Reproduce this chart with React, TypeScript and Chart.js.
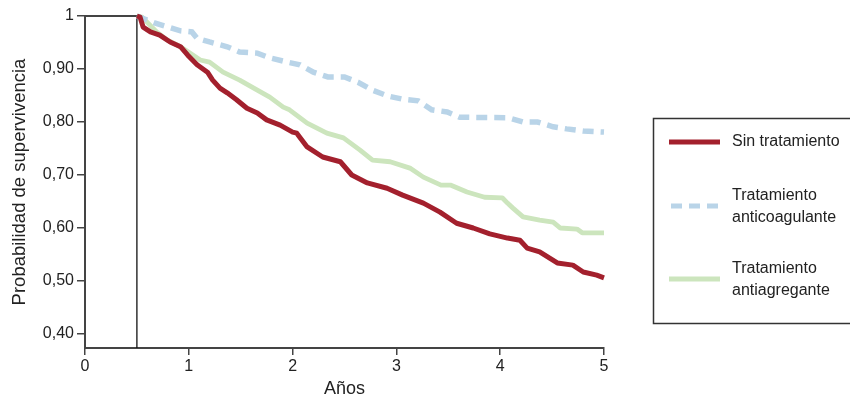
import React, { useEffect, useRef } from "react";
import { Chart, registerables } from "chart.js";

Chart.register(...registerables);

// ---- Data ----
const sinTiempo = [0.5, 0.53, 0.56, 0.63, 0.72, 0.82, 0.92, 0.99, 1.08, 1.18, 1.23, 1.3, 1.37, 1.46, 1.56, 1.66, 1.75, 1.88, 2.0, 2.04, 2.14, 2.29, 2.46, 2.57, 2.72, 2.91, 3.06, 3.26, 3.42, 3.58, 3.74, 3.9, 4.07, 4.19, 4.26, 4.38, 4.55, 4.7, 4.8, 4.93, 5.0];
const sinValores = [1.0, 0.998, 0.979, 0.97, 0.964, 0.951, 0.942, 0.926, 0.908, 0.894, 0.879, 0.864, 0.855, 0.842, 0.826, 0.817, 0.804, 0.794, 0.781, 0.779, 0.753, 0.734, 0.725, 0.7, 0.685, 0.675, 0.662, 0.647, 0.63, 0.609, 0.6, 0.589, 0.581, 0.577, 0.562, 0.555, 0.534, 0.53, 0.517, 0.511, 0.506];

const anticoagTiempo = [0.5, 0.67, 0.92, 1.03, 1.08, 1.2, 1.37, 1.49, 1.66, 1.78, 1.95, 2.07, 2.2, 2.34, 2.5, 2.63, 2.77, 2.92, 3.06, 3.21, 3.34, 3.49, 3.61, 4.08, 4.22, 4.36, 4.51, 4.64, 4.8, 5.0];
const anticoagValores = [1.0, 0.987, 0.972, 0.97, 0.958, 0.951, 0.942, 0.932, 0.93, 0.921, 0.913, 0.908, 0.894, 0.885, 0.885, 0.875, 0.86, 0.849, 0.843, 0.84, 0.823, 0.819, 0.809, 0.808, 0.8, 0.8, 0.791, 0.787, 0.783, 0.781];

const antiagregTiempo = [0.5, 0.55, 0.69, 0.79, 0.92, 1.01, 1.11, 1.2, 1.33, 1.49, 1.66, 1.78, 1.91, 1.97, 2.14, 2.33, 2.49, 2.65, 2.77, 2.94, 3.13, 3.26, 3.43, 3.52, 3.68, 3.85, 4.02, 4.07, 4.12, 4.22, 4.38, 4.51, 4.58, 4.74, 4.79, 5.0];
const antiagregValores = [1.0, 0.998, 0.97, 0.955, 0.942, 0.93, 0.917, 0.913, 0.894, 0.879, 0.86, 0.847, 0.828, 0.823, 0.798, 0.779, 0.77, 0.747, 0.728, 0.725, 0.713, 0.696, 0.681, 0.681, 0.668, 0.658, 0.657, 0.647, 0.638, 0.621, 0.615, 0.611, 0.6, 0.598, 0.591, 0.591];

const seriesLabels = ["Sin tratamiento", "Tratamiento anticoagulante", "Tratamiento antiagregante"];
const legendLines = [["Sin tratamiento"], ["Tratamiento", "anticoagulante"], ["Tratamiento", "antiagregante"]];

const xTickValues = [0, 1, 2, 3, 4, 5];
const yTickValues = [0.4, 0.5, 0.6, 0.7, 0.8, 0.9, 1.0];
const yTickLabels = ["0,40", "0,50", "0,60", "0,70", "0,80", "0,90", "1"];
const corteAnios = 0.5;
const yMin = 0.3736;
const yMax = 1.0;

const FONT = "'Liberation Sans', Arial, sans-serif";
const TEXT = "#222";
const AXIS = "#444";

const toPoints = (t: number[], v: number[]) => t.map((x, i) => ({ x, y: v[i] }));

const boxPlugin = {
  id: "cutBox",
  beforeDatasetsDraw(chart: any) {
    const { ctx, scales } = chart;
    const x = scales.x, y = scales.y;
    const x0 = x.getPixelForValue(0);
    const xc = x.getPixelForValue(corteAnios);
    const yt = y.getPixelForValue(1);
    const yb = y.getPixelForValue(yMin);
    ctx.save();
    ctx.strokeStyle = AXIS;
    ctx.lineWidth = 2;
    ctx.beginPath();
    ctx.moveTo(x0, yt);
    ctx.lineTo(xc, yt);
    ctx.stroke();
    ctx.strokeStyle = "#111";
    ctx.lineWidth = 1.3;
    ctx.beginPath();
    ctx.moveTo(xc, yt);
    ctx.lineTo(xc, yb);
    ctx.stroke();
    ctx.restore();
  },
};

const legendPlugin = {
  id: "boxLegend",
  afterDraw(chart: any) {
    const { ctx } = chart;
    ctx.save();
    ctx.strokeStyle = "#333";
    ctx.lineWidth = 1.5;
    ctx.strokeRect(653.5, 118.5, 210, 205);
    const centers = [142, 206, 279];
    chart.data.datasets.forEach((ds: any, i: number) => {
      const cy = centers[i];
      ctx.save();
      ctx.strokeStyle = ds.borderColor;
      ctx.lineWidth = 5;
      ctx.setLineDash(ds.borderDash || []);
      ctx.lineDashOffset = ds.borderDash ? -2 : 0;
      ctx.beginPath();
      ctx.moveTo(669, cy);
      ctx.lineTo(720, cy);
      ctx.stroke();
      ctx.restore();
      ctx.fillStyle = TEXT;
      ctx.font = `16px ${FONT}`;
      ctx.textBaseline = "middle";
      ctx.textAlign = "left";
      const lines = legendLines[i];
      if (lines.length === 1) {
        ctx.fillText(lines[0], 732, cy);
      } else {
        ctx.fillText(lines[0], 732, cy - 10);
        ctx.fillText(lines[1], 732, cy + 12);
      }
    });
    ctx.restore();
  },
};

export default function App() {
  const ref = useRef<HTMLCanvasElement | null>(null);
  useEffect(() => {
    if (!ref.current) return;
    const chart = new Chart(ref.current, {
      type: "line",
      data: {
        datasets: [
          {
            label: seriesLabels[0],
            data: toPoints(sinTiempo, sinValores),
            borderColor: "#a3202d",
            borderWidth: 5,
            pointRadius: 0,
            tension: 0,
            clip: false as any,
            borderJoinStyle: "round",
          },
          {
            label: seriesLabels[1],
            data: toPoints(anticoagTiempo, anticoagValores),
            borderColor: "#b9d4e8",
            borderWidth: 5.5,
            borderDash: [11, 7],
            pointRadius: 0,
            tension: 0,
            clip: false as any,
          },
          {
            label: seriesLabels[2],
            data: toPoints(antiagregTiempo, antiagregValores),
            borderColor: "#cce5bd",
            borderWidth: 4.8,
            pointRadius: 0,
            tension: 0,
            clip: false as any,
            borderJoinStyle: "round",
          },
        ],
      },
      options: {
        responsive: false,
        animation: false,
        devicePixelRatio: 1,
        layout: { padding: { top: 16, right: 246, left: 0, bottom: 0 } },
        plugins: { legend: { display: false }, tooltip: { enabled: false } },
        scales: {
          x: {
            type: "linear",
            min: 0,
            max: 5,
            afterBuildTicks: (s: any) => {
              s.ticks = xTickValues.map((v) => ({ value: v }));
            },
            afterFit: (s: any) => {
              s.height = 49;
            },
            border: { color: AXIS, width: 2 },
            grid: { drawOnChartArea: false, drawTicks: true, tickLength: 7, color: AXIS, lineWidth: 1.5 },
            ticks: { color: TEXT, font: { family: FONT, size: 16 }, padding: 2, maxRotation: 0 },
            title: { display: true, text: "Años", color: TEXT, font: { family: FONT, size: 18 }, padding: { top: 0, bottom: -3 } },
          },
          y: {
            type: "linear",
            min: yMin,
            max: yMax,
            afterBuildTicks: (s: any) => {
              s.ticks = yTickValues.map((v) => ({ value: v }));
            },
            afterFit: (s: any) => {
              s.width = 85;
            },
            border: { color: AXIS, width: 2 },
            grid: { drawOnChartArea: false, drawTicks: true, tickLength: 8, color: AXIS, lineWidth: 1.5 },
            ticks: {
              color: TEXT,
              font: { family: FONT, size: 16 },
              padding: 3,
              callback: (v: any) => {
                const i = yTickValues.findIndex((t) => Math.abs(t - v) < 1e-6);
                return i >= 0 ? yTickLabels[i] : "";
              },
            },
            title: { display: true, text: "Probabilidad de supervivencia", color: TEXT, font: { family: FONT, size: 18.5 }, padding: { top: 9, bottom: 0 } },
          },
        },
      },
      plugins: [boxPlugin, legendPlugin],
    } as any);
    return () => chart.destroy();
  }, []);
  return (
    <div style={{ position: "fixed", left: 0, top: 0, width: 850, height: 397, background: "#fff" }}>
      <canvas ref={ref} width={850} height={397} style={{ display: "block" }} />
    </div>
  );
}
